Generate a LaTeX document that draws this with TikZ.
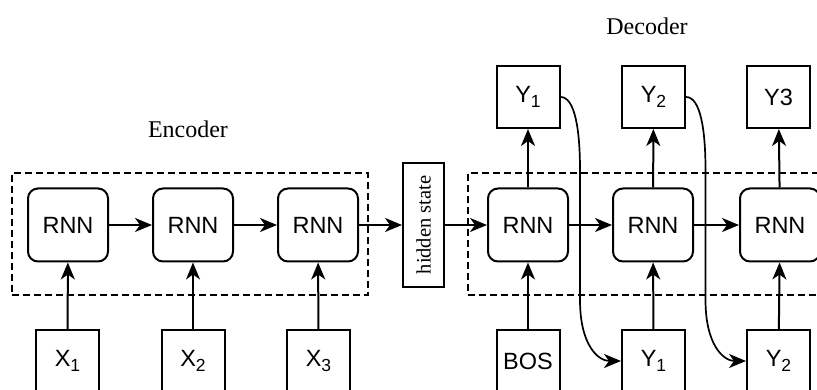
\documentclass[tikz,border=0pt]{standalone}
\usepackage{fontspec}
\setmainfont{Liberation Serif}
\setsansfont{Liberation Sans}
\usetikzlibrary{arrows.meta}
\newcommand\mysubscr[1]{\raisebox{-5pt}{\fontsize{17.5}{20}\selectfont #1}}
\tikzset{
  rnn/.style={draw, line width=2pt, rounded corners=10pt, minimum width=80pt, minimum height=73pt, inner sep=0pt, font=\sffamily\fontsize{23.5}{27}\selectfont},
  tok/.style={draw, line width=2pt, minimum width=63pt, minimum height=62pt, inner sep=0pt, font=\sffamily\fontsize{23.5}{27}\selectfont},
  hsbox/.style={draw, line width=2pt, minimum width=41pt, minimum height=124pt, inner sep=0pt},
  arr/.style={line width=2pt, -{Stealth[length=17pt,width=14pt,inset=5pt]}},
  curv/.style={line width=1.7pt, -{Stealth[length=17pt,width=14pt,inset=5pt]}},
  grp/.style={draw, line width=1.8pt, dash pattern=on 7pt off 4pt},
  lbl/.style={font=\rmfamily\fontsize{24}{28}\selectfont},
  hslbl/.style={font=\rmfamily\fontsize{20.5}{24}\selectfont, rotate=90}
}
\begin{document}
\begin{tikzpicture}[x=1pt,y=1pt]
\useasboundingbox (0,0) rectangle (817,390);
\clip (0,0) rectangle (817,390);
\fill[white] (0,0) rectangle (817,390);
% groups
\node[grp, minimum width=356pt, minimum height=122pt, inner sep=0pt] (enc) at (190,156) {};
\node[grp, minimum width=362pt, minimum height=122pt, inner sep=0pt] (dec) at (649,156) {};
\node[lbl] (enclbl) at (188,261) {Encoder};
\node[lbl] (declbl) at (647,364) {Decoder};
% encoder
\node[rnn] (r1) at (68,165) {RNN};
\node[rnn] (r2) at (193,165) {RNN};
\node[rnn] (r3) at (318,165) {RNN};
\node[tok] (x1) at (67.5,29) {X\mysubscr{1}};
\node[tok] (x2) at (193,29) {X\mysubscr{2}};
\node[tok] (x3) at (318.5,29) {X\mysubscr{3}};
% hidden state
\node[hsbox] (hs) at (423.5,165) {};
\node[hslbl] (hst) at (hs.center) {hidden state};
% decoder
\node[rnn] (r4) at (528,165) {RNN};
\node[rnn] (r5) at (653,165) {RNN};
\node[rnn] (r6) at (780,165) {RNN};
\node[tok] (bos) at (528,29) {BOS};
\node[tok] (y1b) at (653.5,29) {Y\mysubscr{1}};
\node[tok] (y2b) at (778.5,29) {Y\mysubscr{2}};
\node[tok] (y1t) at (528,293) {Y\mysubscr{1}};
\node[tok] (y2t) at (653.5,293) {Y\mysubscr{2}};
\node[tok] (y3t) at (778.5,293) {Y3};
% horizontal arrows
\draw[arr] (r1) -- (r2);
\draw[arr] (r2) -- (r3);
\draw[arr] (r3) -- (hs);
\draw[arr] (hs) -- (r4);
\draw[arr] (r4) -- (r5);
\draw[arr] (r5) -- (r6);
% vertical arrows
\draw[arr] (x1) -- (r1);
\draw[arr] (x2) -- (r2);
\draw[arr] (x3) -- (r3);
\draw[arr] (bos) -- (r4);
\draw[arr] (y1b) -- (r5);
\draw[arr] (y2b) -- (r6);
\draw[arr] (r4) -- (y1t);
\draw[arr] (r5) -- (y2t);
\draw[arr] (r6) -- (y3t);
% feedback curves
\coordinate (c1a) at (580,220);
\coordinate (c1b) at (580,90);
\coordinate (c2a) at (705.5,220);
\coordinate (c2b) at (705.5,90);
\draw[curv] (y1t.east) .. controls (575,293) and (580,260) .. (c1a) -- (c1b) .. controls (580,45) and (598,29) .. (y1b.west);
\draw[curv] (y2t.east) .. controls (700.5,293) and (705.5,260) .. (c2a) -- (c2b) .. controls (705.5,45) and (723.5,29) .. (y2b.west);
\end{tikzpicture}
\end{document}
